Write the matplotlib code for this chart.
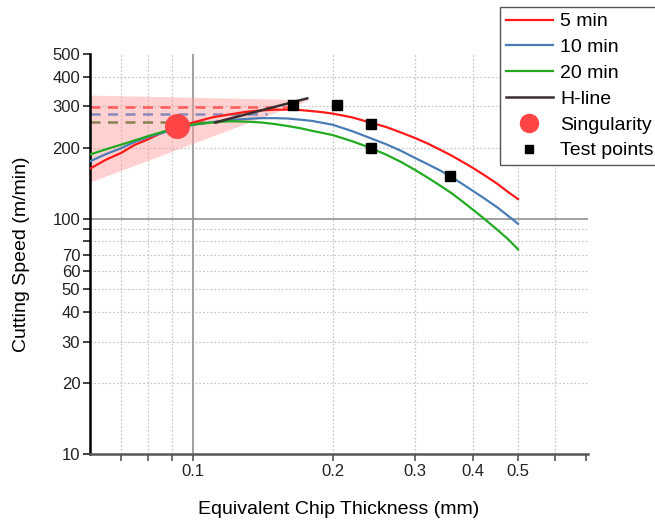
import numpy as np
import matplotlib
matplotlib.use("Agg")
import matplotlib.pyplot as plt

plt.rcParams['font.family'] = ['Liberation Sans', 'DejaVu Sans']

# chip thickness (mm) where the curves were read
h = [0.06, 0.065, 0.07, 0.075, 0.08, 0.085, 0.09, 0.095, 0.1, 0.11, 0.12, 0.13, 0.14, 0.15,
     0.16, 0.17, 0.18, 0.19, 0.2, 0.22, 0.24, 0.26, 0.28, 0.3, 0.32, 0.34, 0.36, 0.38,
     0.4, 0.425, 0.45, 0.475, 0.5]
v5 = [163, 178, 190, 206, 217, 230, 240, 249, 256, 269, 277, 284, 288, 290,
      290, 289, 286, 283, 279, 269, 256, 245, 232, 220, 208, 196, 185, 174,
      164, 152, 141, 130, 121]
v10 = [175, 188, 199, 212, 222, 230, 237, 244, 250, 257, 262, 265, 267, 267,
       266, 263, 260, 255, 250, 235, 220, 207, 194, 181, 170, 160, 150, 140,
       131, 121, 112, 103, 95]
v20 = [187, 197, 206, 215, 224, 232, 240, 246, 251, 256, 259, 258, 256, 252,
       247, 242, 236, 231, 226, 213, 200, 187, 174, 161, 149, 138, 128, 118,
       109, 99, 90, 82, 74]

# max speed levels (dashed) and where they stop
vmax = [298, 277, 258]
vmax_end = [0.162, 0.144, 0.113]

hline_x = [0.1115, 0.176]
hline_y = [256, 324]

# shaded band around H-line
band_x = [0.06, 0.178, 0.06]
band_y = [333, 318, 142]

sing_x = [0.0923]
sing_y = [247]

test_x = [0.164, 0.204, 0.2415, 0.2415, 0.357]
test_y = [303, 303, 253, 200, 151]

red = '#ff1a1a'
blue = '#4a7db5'
green = '#22aa22'

fig = plt.figure(figsize=(6.55, 5.2), dpi=100)
ax = fig.add_axes([90/655, 66/520, 498/655, 400/520])
ax.set_xscale('log')
ax.set_yscale('log')
ax.set_xlim(0.06, 0.707)
ax.set_ylim(10, 500)

# grid
for gx in [0.07, 0.08, 0.09, 0.2, 0.3, 0.4, 0.5, 0.6]:
    ax.axvline(gx, color='#c8c8c8', lw=0.9, ls=(0, (1.5, 1.5)), zorder=0)
for gy in [20, 30, 40, 50, 60, 70, 80, 90, 200, 300, 400]:
    ax.axhline(gy, color='#c8c8c8', lw=0.9, ls=(0, (1.5, 1.5)), zorder=0)
ax.axvline(0.1, color='#999999', lw=1.3, zorder=0.5)
ax.axhline(100, color='#999999', lw=1.3, zorder=0.5)

ax.fill(band_x, band_y, color='#ff9a9a', alpha=0.45, lw=0, zorder=1)

dash_cols = ['#ff5a5a', '#8888bb', '#8a8055']
for lvl, xe, c in zip(vmax, vmax_end, dash_cols):
    ax.plot([0.06, xe], [lvl, lvl], color=c, lw=1.8, ls=(0, (4, 3)), zorder=2)

ax.plot(h, v5, color=red, lw=1.6, label='5 min', zorder=3)
ax.plot(h, v10, color=blue, lw=1.6, label='10 min', zorder=3)
ax.plot(h, v20, color=green, lw=1.6, label='20 min', zorder=3)
ax.plot(hline_x, hline_y, color='#3a2e2e', lw=1.8, label='H-line', zorder=4)
ax.plot(sing_x, sing_y, 'o', color='#ff4545', ms=18, mec='none', label='Singularity', zorder=5)
ax.plot(test_x, test_y, 's', color='black', ms=6.5, ls='none', label='Test points', zorder=6)

# ticks
ax.set_xticks([0.1, 0.2, 0.3, 0.4, 0.5])
ax.set_xticklabels(['0.1', '0.2', '0.3', '0.4', '0.5'])
ax.set_xticks([0.07, 0.08, 0.09, 0.6, 0.7], minor=True)
ax.set_xticklabels([], minor=True)
yt = [10, 20, 30, 40, 50, 60, 70, 100, 200, 300, 400, 500]
ax.set_yticks(yt)
ax.set_yticklabels([str(v) for v in yt])
ax.set_yticks([80, 90], minor=True)
ax.set_yticklabels([], minor=True)
ax.tick_params(axis='both', which='both', direction='out', length=5, width=1.2,
               labelsize=12, colors='#222222')
ax.tick_params(axis='x', which='both', color='#555555', pad=2)
ax.tick_params(axis='y', which='both', pad=2)

for s in ['top', 'right']:
    ax.spines[s].set_visible(False)
ax.spines['left'].set_linewidth(1.8)
ax.spines['left'].set_color('black')
ax.spines['bottom'].set_linewidth(1.8)
ax.spines['bottom'].set_color('#555555')

ax.set_xlabel('Equivalent Chip Thickness (mm)', fontsize=14, labelpad=16)
ax.set_ylabel('Cutting Speed (m/min)', fontsize=14, labelpad=16)

leg = fig.legend(*ax.get_legend_handles_labels(), loc='upper left',
                 bbox_to_anchor=(500/655, 1 - 7/520), fontsize=14,
                 fancybox=False, edgecolor='#555555', framealpha=1,
                 handlelength=2.4, handletextpad=0.4, labelspacing=0.42,
                 borderpad=0.3, borderaxespad=0)
leg.get_frame().set_linewidth(1.0)
leg.legend_handles[4].set_markersize(14)
leg.legend_handles[5].set_markersize(6)

fig.savefig('out.png', dpi=100)
